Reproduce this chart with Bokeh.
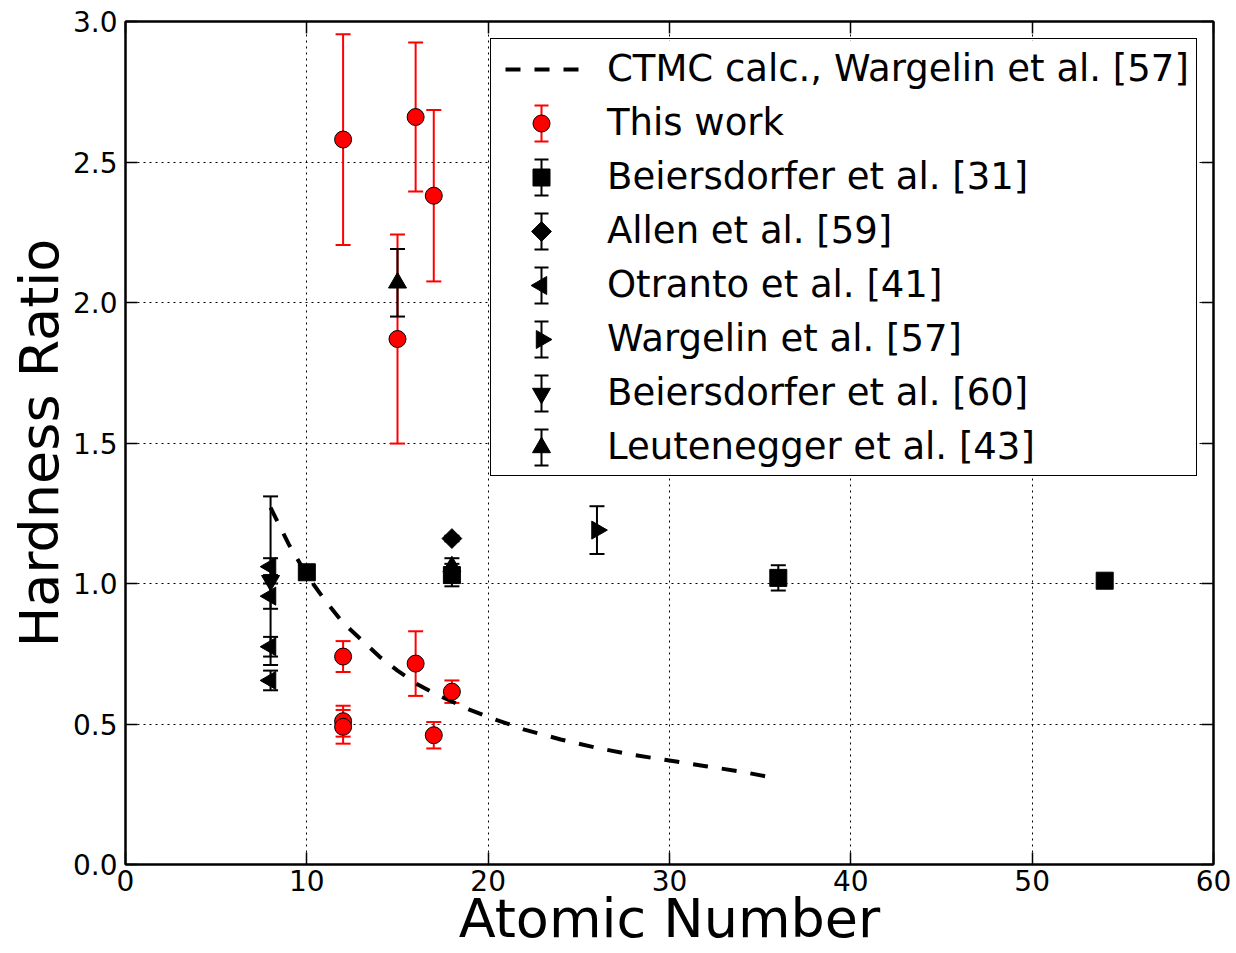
import math
from bokeh.plotting import figure
from bokeh.models import (ColumnDataSource, Whisker, TeeHead, Legend, LegendItem,
                          FixedTicker, LinearAxis, PrintfTickFormatter, CustomJSTickFormatter)
from bokeh.embed import file_html
from bokeh.resources import INLINE

# ---------------- data ----------------
x_ticks = [0, 10, 20, 30, 40, 50, 60]
y_ticks = [0.0, 0.5, 1.0, 1.5, 2.0, 2.5, 3.0]

ctmc_z = [8, 9, 10, 11, 12, 13, 14, 15, 16, 17, 18, 19, 20, 22, 24, 26, 28, 30, 32, 34, 36]
ctmc_hr = [1.27, 1.14, 1.03, 0.94, 0.86, 0.80, 0.74, 0.69, 0.645, 0.61, 0.58, 0.55, 0.525,
           0.48, 0.445, 0.415, 0.39, 0.37, 0.35, 0.33, 0.305]

this_z = [12, 16, 17, 15, 12, 12, 12, 16, 18, 17]
this_hr = [2.58, 2.66, 2.38, 1.87, 0.74, 0.51, 0.49, 0.715, 0.615, 0.46]
this_err = [0.375, 0.265, 0.305, 0.372, 0.055, 0.055, 0.06, 0.115, 0.04, 0.047]

b31_z = [10, 18, 36, 54]
b31_hr = [1.04, 1.03, 1.02, 1.01]
b31_err = [0.02, 0.04, 0.045, 0.02]

allen_z = [18]
allen_hr = [1.16]
allen_err = [0.01]

otranto_z = [8, 8, 8, 8]
otranto_hr = [1.06, 0.955, 0.775, 0.655]
otranto_err = [0.03, 0.045, 0.035, 0.035]

warg_z = [26]
warg_hr = [1.19]
warg_err = [0.085]

b60_z = [8]
b60_hr = [1.01]
b60_err = [0.30]

leut_z = [15, 18]
leut_hr = [2.07, 1.06]
leut_err = [0.12, 0.03]

labels = ["CTMC calc., Wargelin et al. [57]", "This work", "Beiersdorfer et al. [31]",
          "Allen et al. [59]", "Otranto et al. [41]", "Wargelin et al. [57]",
          "Beiersdorfer et al. [60]", "Leutenegger et al. [43]"]
x_title = "Atomic Number"
y_title = "Hardness Ratio"

# ---------------- layout constants ----------------
W, H = 1236, 953
FL, FR, FT, FB = 125, 23, 21, 89
FONT = "DejaVu Sans"
X0, X1, Y0, Y1 = 0, 60, 0, 3
FW, FH = W - FL - FR, H - FT - FB


def px_x(sx):
    return X0 + (sx - FL) / FW * (X1 - X0)


def px_y(sy):
    return Y0 + (H - FB - sy) / FH * (Y1 - Y0)


def dx(n):
    return n / FW * (X1 - X0)


p = figure(width=W, height=H, x_range=(X0, X1), y_range=(Y0, Y1),
           output_backend="svg", toolbar_location=None,
           min_border_left=FL, min_border_right=FR, min_border_top=FT, min_border_bottom=FB)
p.background_fill_color = "white"
p.border_fill_color = "white"
p.outline_line_color = "black"
p.outline_line_width = 2

p.xaxis.ticker = FixedTicker(ticks=x_ticks)
p.yaxis.ticker = FixedTicker(ticks=y_ticks)
p.yaxis.formatter = PrintfTickFormatter(format="%.1f")
p.xaxis.axis_label = x_title
p.yaxis.axis_label = y_title
for ax in (p.xaxis, p.yaxis):
    ax.axis_line_color = "black"
    ax.axis_line_width = 2
    ax.major_tick_in = 12
    ax.major_tick_out = 0
    ax.major_tick_line_width = 1.5
    ax.minor_tick_in = 0
    ax.minor_tick_out = 0
    ax.major_label_text_font = FONT
    ax.major_label_text_font_size = "28px"
    ax.major_label_text_color = "black"
    ax.axis_label_text_font = FONT
    ax.axis_label_text_font_size = "54px"
    ax.axis_label_text_font_style = "normal"
    ax.axis_label_text_color = "black"
p.xaxis.major_label_standoff = 5
p.yaxis.major_label_standoff = 8
p.xaxis.axis_label_standoff = -7
p.yaxis.axis_label_standoff = -1

for loc, rng in (("above", x_ticks), ("right", y_ticks)):
    ax = LinearAxis(ticker=FixedTicker(ticks=rng),
                    formatter=CustomJSTickFormatter(code="return ''"),
                    major_tick_in=12, major_tick_out=0, minor_tick_in=0, minor_tick_out=0,
                    major_label_standoff=0, axis_line_width=2, major_tick_line_width=1.5)
    p.add_layout(ax, loc)

p.xgrid.ticker = FixedTicker(ticks=x_ticks)
p.ygrid.ticker = FixedTicker(ticks=y_ticks)
for g in (p.xgrid, p.ygrid):
    g.grid_line_color = "black"
    g.grid_line_dash = "2 4"
    g.grid_line_width = 1

# ---------------- glyphs ----------------
CTMC_STYLE = dict(line_color="black", line_width=4, line_dash="15 14")
p.line(ctmc_z, ctmc_hr, **CTMC_STYLE)

series = [
    (this_z, this_hr, this_err, "circle", 17, 0.0, "red", "red"),
    (b31_z, b31_hr, b31_err, "square", 17, 0.0, "black", "black"),
    (allen_z, allen_hr, allen_err, "square", 14, math.pi / 4, "black", "black"),
    (otranto_z, otranto_hr, otranto_err, "triangle", 18, math.pi / 2, "black", "black"),
    (warg_z, warg_hr, warg_err, "triangle", 18, -math.pi / 2, "black", "black"),
    (b60_z, b60_hr, b60_err, "inverted_triangle", 18, 0.0, "black", "black"),
    (leut_z, leut_hr, leut_err, "triangle", 18, 0.0, "black", "black"),
]

for z, hr, err, marker, size, ang, fill, ecol in series:
    src = ColumnDataSource(dict(z=z, hr=hr,
                                lower=[v - e for v, e in zip(hr, err)],
                                upper=[v + e for v, e in zip(hr, err)]))
    w = Whisker(source=src, base="z", lower="lower", upper="upper", dimension="height",
                line_color=ecol, line_width=2, level="underlay",
                upper_head=TeeHead(size=15, line_color=ecol, line_width=2),
                lower_head=TeeHead(size=15, line_color=ecol, line_width=2))
    p.add_layout(w)
    p.scatter("z", "hr", source=src, marker=marker, size=size, angle=ang,
              fill_color=fill, line_color="black", line_width=1)

# ---------------- legend (box + labels from Bokeh, symbols drawn as glyphs) ----------------
LEG_LEFT, LEG_TOP, LEG_RIGHT = 490, 40, 1197
PAD, GW, GH, SP, STAND = 7, 60, 44, 10, 49
SYM_X, BAR_HALF, CAP_HALF, DASH_L, DASH_R = 541, 18, 7, 505, 578
n_items = len(labels)
leg_h = 2 * PAD + n_items * GH + (n_items - 1) * SP

# white panel under the legend symbols (the legend itself is transparent)
p.quad(left=[px_x(LEG_LEFT)], right=[px_x(LEG_RIGHT)], top=[px_y(LEG_TOP)],
       bottom=[px_y(LEG_TOP + leg_h)], fill_color="white", line_color=None)

dummy = p.scatter(x=[], y=[], fill_alpha=0, line_alpha=0)
legend = Legend(items=[LegendItem(label=l, renderers=[dummy]) for l in labels],
                location=(LEG_LEFT - FL, (H - FB) - (LEG_TOP + leg_h)),
                padding=PAD, spacing=SP, glyph_width=GW, glyph_height=GH, label_height=GH,
                label_standoff=STAND, margin=0,
                label_text_font=FONT, label_text_font_size="37px", label_text_color="black",
                border_line_color="black", border_line_width=1.5, border_line_alpha=1,
                background_fill_alpha=0)
p.add_layout(legend)

row_y = [LEG_TOP + PAD + GH / 2 + i * (GH + SP) for i in range(n_items)]

# dashed line symbol
p.line([px_x(DASH_L), px_x(DASH_R)], [px_y(row_y[0])] * 2, **CTMC_STYLE)

# error-bar + marker symbols
sx = px_x(SYM_X)
for i, (z, hr, err, marker, size, ang, fill, ecol) in enumerate(series, start=1):
    cy = row_y[i]
    top, bot = px_y(cy - BAR_HALF), px_y(cy + BAR_HALF)
    p.segment(x0=[sx, sx - dx(CAP_HALF), sx - dx(CAP_HALF)],
              y0=[bot, bot, top],
              x1=[sx, sx + dx(CAP_HALF), sx + dx(CAP_HALF)],
              y1=[top, bot, top], line_color=ecol, line_width=2)
    p.scatter([sx], [px_y(cy)], marker=marker, size=size, angle=ang,
              fill_color=fill, line_color="black", line_width=1)

open("out.html", "w").write(file_html(p, INLINE))
